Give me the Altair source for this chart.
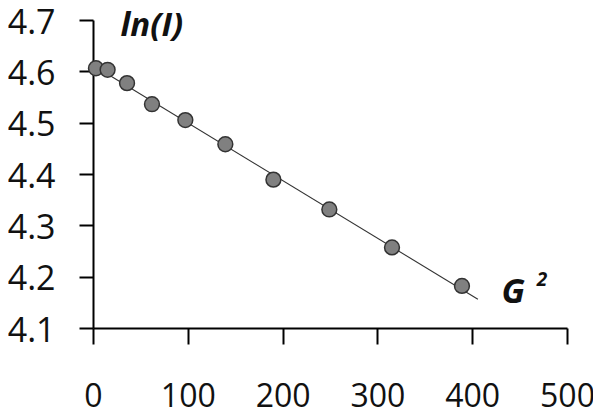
import altair as alt
import pandas as pd

# measured points
g2 = [3.1, 15.4, 35.9, 62.2, 97.4, 139.6, 190.3, 249.3, 315.4, 389.2]
ln_i = [4.606, 4.603, 4.577, 4.536, 4.505, 4.458, 4.389, 4.331, 4.257, 4.182]

# fitted line endpoints
fit_x = [0, 406]
fit_y = [4.612, 4.156]

# annotations
ann_text = ["ln(I)", "G", "2"]
ann_x = [29, 431, 468]
ann_y = [4.688, 4.168, 4.193]
ann_size = [33, 34, 19]

FONT = "Open Sans"

pts = pd.DataFrame({"x": g2, "y": ln_i})
fit = pd.DataFrame({"x": fit_x, "y": fit_y})
ann = pd.DataFrame({"t": ann_text, "x": ann_x, "y": ann_y, "s": ann_size})

xs = alt.Scale(domain=[0, 500], nice=False, zero=False)
ys = alt.Scale(domain=[4.1, 4.7], nice=False, zero=False)

xaxis = alt.Axis(values=[0, 100, 200, 300, 400, 500], grid=False, title=None,
                 domainColor="black", domainWidth=2, tickColor="black", tickWidth=2,
                 tickSize=16, labelFont=FONT, labelFontSize=32, labelColor="#111",
                 labelPadding=37, labelFlush=False, labelOverlap=False)
yaxis = alt.Axis(values=[4.1, 4.2, 4.3, 4.4, 4.5, 4.6, 4.7], format=".1f", grid=False, title=None,
                 domainColor="black", domainWidth=2, tickColor="black", tickWidth=2,
                 tickSize=14, labelFont=FONT, labelFontSize=34, labelColor="#111",
                 labelPadding=24, labelFlush=False, labelOverlap=False, labelOffset=3)

line = alt.Chart(fit).mark_line(color="#333", strokeWidth=1.1).encode(
    x=alt.X("x:Q", scale=xs, axis=xaxis),
    y=alt.Y("y:Q", scale=ys, axis=yaxis),
)

points = alt.Chart(pts).mark_point(filled=True, fill="#808080", stroke="#333",
                                   strokeWidth=1.5, opacity=1, fillOpacity=1,
                                   size=220, shape="circle").encode(
    x=alt.X("x:Q", scale=xs),
    y=alt.Y("y:Q", scale=ys),
)

text = alt.Chart(ann).mark_text(font=FONT, fontWeight="bold", fontStyle="italic",
                                align="left", baseline="middle", color="#111").encode(
    x=alt.X("x:Q", scale=xs),
    y=alt.Y("y:Q", scale=ys),
    text="t:N",
    size=alt.Size("s:Q", scale=None, legend=None),
)

chart = alt.layer(line, points, text).properties(
    width=474, height=308,
    background="white",
    autosize=alt.AutoSizeParams(type="none"),
    padding={"left": 85, "top": 12, "right": 26, "bottom": 80},
).configure_view(stroke=None)

chart.save("out.html", embed_options={"renderer": "svg", "actions": False})
